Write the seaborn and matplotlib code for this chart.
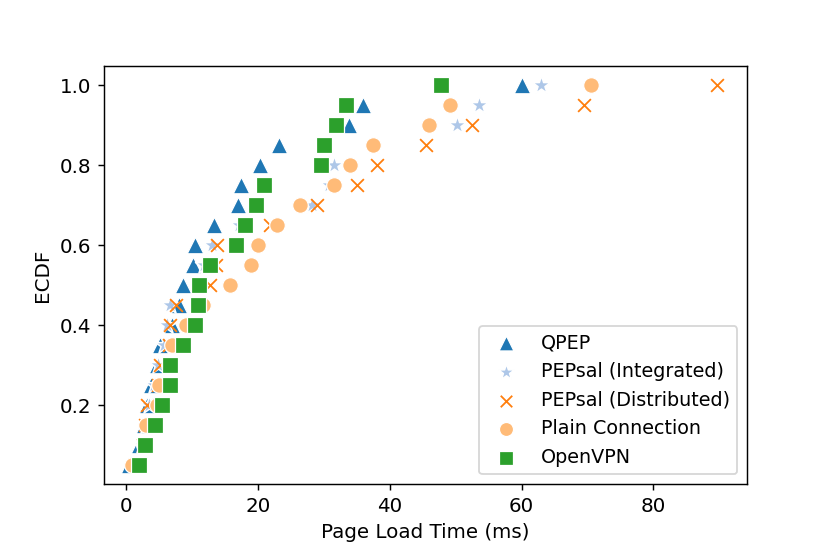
import numpy as np
import pandas as pd
import seaborn as sns
from matplotlib import pyplot as plt

plt.rcParams['font.size'] = 11

# ECDF levels shared by all series
ecdf = [0.05, 0.10, 0.15, 0.20, 0.25, 0.30, 0.35, 0.40, 0.45, 0.50,
        0.55, 0.60, 0.65, 0.70, 0.75, 0.80, 0.85, 0.90, 0.95, 1.00]

# page load times (ms), one per ecdf level
qpep = [0.4, 1.9, 2.7, 3.2, 3.7, 4.7, 5.2, 7.0, 8.0, 8.6,
        10.2, 10.5, 13.4, 16.9, 17.5, 20.3, 23.2, 33.8, 36.0, 60.0]
pepsal_int = [1.5, 2.4, 3.0, 3.4, 4.2, 4.9, 5.7, 6.2, 6.7, 11.0,
              11.8, 13.1, 17.1, 28.2, 30.8, 31.5, 37.5, 50.2, 53.6, 62.9]
pepsal_dist = [1.2, 2.5, 2.9, 3.2, 4.8, 5.2, 6.5, 6.7, 7.5, 12.7,
               13.6, 13.8, 21.9, 29.0, 35.1, 38.0, 45.5, 52.5, 69.5, 89.7]
plain = [0.9, 2.7, 3.0, 4.7, 5.0, 6.5, 7.0, 9.1, 11.6, 15.7,
         18.9, 20.0, 22.9, 26.4, 31.5, 33.9, 37.5, 46.0, 49.1, 70.6]
openvpn = [2.0, 2.8, 4.4, 5.5, 6.7, 6.7, 8.7, 10.5, 10.9, 11.0,
           12.7, 16.6, 18.1, 19.7, 20.9, 29.6, 30.0, 31.8, 33.4, 47.7]

names = ['QPEP', 'PEPsal (Integrated)', 'PEPsal (Distributed)',
         'Plain Connection', 'OpenVPN']
series = [qpep, pepsal_int, pepsal_dist, plain, openvpn]
markers = ['^', '*', 'x', 'o', 's']
sizes = [85, 110, 50, 75, 75]
colors = sns.color_palette('tab20', 5)

fig, ax = plt.subplots(figsize=(830 / 130, 554 / 130), dpi=130)
fig.subplots_adjust(left=0.125, right=0.9, top=0.88, bottom=0.1264)

for name, vals, m, sz, c in zip(names, series, markers, sizes, colors):
  df = pd.DataFrame({'time': vals, 'ecdf': ecdf})
  kw = {}
  if m == 'x':
    kw['linewidth'] = 1.0
  sns.scatterplot(data=df, x='time', y='ecdf', marker=m, color=c,
                  s=sz, label=name, ax=ax, **kw)

ax.set_xlim(-3.4, 94.2)
ax.set_ylim(0.0025, 1.0475)
ax.set_xlabel('Page Load Time (ms)')
ax.set_ylabel('ECDF')
ax.legend(loc='lower right', fontsize=10.6, markerscale=0.9)

fig.savefig('out.png', dpi=130)
